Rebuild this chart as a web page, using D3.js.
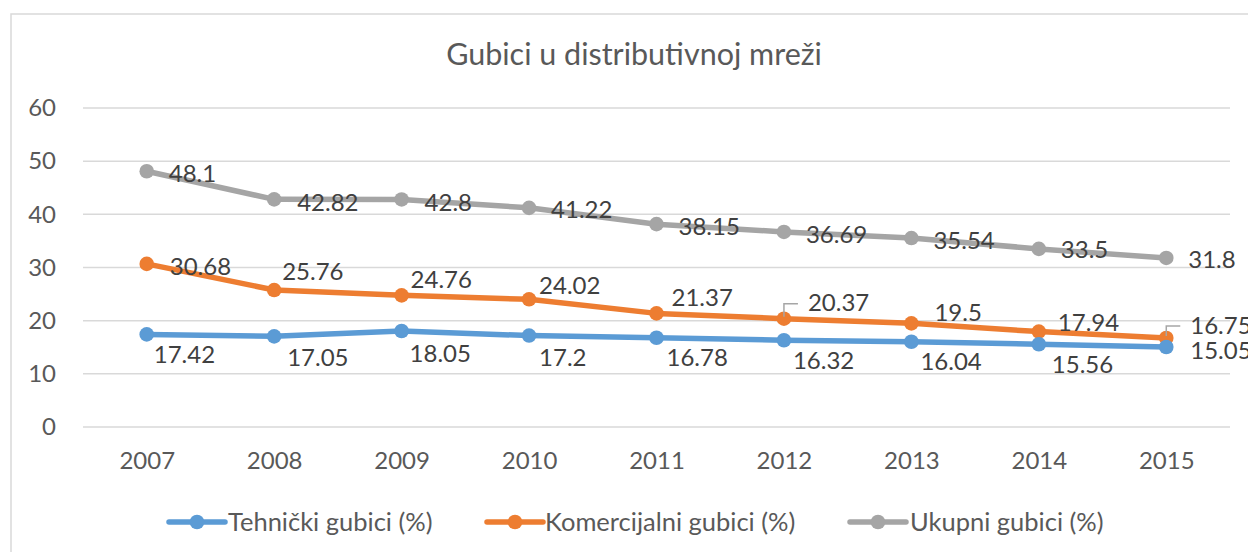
<!DOCTYPE html>
<html><head><meta charset="utf-8">
<script src="https://cdn.jsdelivr.net/npm/d3@7"></script>
<style>
html,body{margin:0;padding:0;background:#fff;}
svg{display:block;font-family:Lato, "Open Sans", sans-serif;}
</style></head>
<body>
<svg id="chart" width="1248" height="552"></svg>
<script>
const title = "Gubici u distributivnoj mreži";
const years = ["2007","2008","2009","2010","2011","2012","2013","2014","2015"];
const yTicks = [0,10,20,30,40,50,60];
const seriesNames = ["Tehnički gubici (%)","Komercijalni gubici (%)","Ukupni gubici (%)"];
const tehnicki = [17.42,17.05,18.05,17.2,16.78,16.32,16.04,15.56,15.05];
const komercijalni = [30.68,25.76,24.76,24.02,21.37,20.37,19.5,17.94,16.75];
const ukupni = [48.1,42.82,42.8,41.22,38.15,36.69,35.54,33.5,31.8];
const colors = ["#5B9BD5","#ED7D31","#A5A5A5"];
// label nudges (dx from point to text start, dy from point to text centre)
const labelNudges = [
  [[7,20],[13,21],[8,22],[10,22],[10,20],[9,20],[9,20],[13,20],[24,3]],
  [[23,2],[8,-19],[9,-16],[10,-14],[15,-16],[24,-16],[23,-11],[19,-9],[24,-13]],
  [[22,2],[23,3],[23,3],[22,2],[22,2],[22,2],[22,2],[22,0],[22,1]]
];
const leaderIdx = [5,8]; // komercijalni labels drawn with leader lines

const svg = d3.select("#chart");
const x = d3.scalePoint().domain(years).range([83,1230]).padding(0.5);
const y = d3.scaleLinear().domain([0,60]).range([427,108]);

svg.append("rect").attr("x",11).attr("y",14).attr("width",1400).attr("height",700)
  .attr("fill","#fff").attr("stroke","#D9D9D9").attr("stroke-width",1.5);

svg.append("text").attr("x",634).attr("y",65).attr("text-anchor","middle")
  .attr("font-size",30.5).attr("fill","#595959").text(title);

// gridlines
svg.append("g").selectAll("line").data(yTicks).join("line")
  .attr("x1",83).attr("x2",1230).attr("y1",d=>y(d)).attr("y2",d=>y(d))
  .attr("stroke","#D9D9D9").attr("stroke-width",1.5);

// y axis labels
const yAxis = svg.append("g").attr("transform","translate(56,0)")
  .call(d3.axisLeft(y).tickValues(yTicks).tickSize(0).tickPadding(0));
yAxis.select(".domain").remove();
yAxis.selectAll("text").attr("font-size",24).attr("fill","#595959").attr("font-family","Lato, sans-serif");

// x axis labels
const xAxis = svg.append("g").attr("transform","translate(0,452)")
  .call(d3.axisBottom(x).tickSize(0).tickPadding(0));
xAxis.select(".domain").remove();
xAxis.selectAll("text").attr("font-size",24).attr("fill","#595959").attr("font-family","Lato, sans-serif").attr("dy","0.71em");

const all = [tehnicki, komercijalni, ukupni];
const line = d3.line().x((d,i)=>x(years[i])).y(d=>y(d));
const drawOrder = [2,1,0];
drawOrder.forEach(s=>{
  const g = svg.append("g");
  g.append("path").datum(all[s]).attr("d",line).attr("fill","none")
    .attr("stroke",colors[s]).attr("stroke-width",5.5).attr("stroke-linejoin","round").attr("stroke-linecap","round");
  g.selectAll("circle").data(all[s]).join("circle")
    .attr("cx",(d,i)=>x(years[i])).attr("cy",d=>y(d)).attr("r",7.3).attr("fill",colors[s]);
});

// leader lines
svg.append("g").selectAll("path").data(leaderIdx).join("path")
  .attr("d",i=>{
    const px = x(years[i]), py = y(komercijalni[i]);
    const ty = py + labelNudges[1][i][1] + 1;
    return `M${px},${py-2}L${px},${ty}L${px+labelNudges[1][i][0]-10},${ty}`;
  })
  .attr("fill","none").attr("stroke","#A6A6A6").attr("stroke-width",1.5);

// data labels
[0,1,2].forEach(s=>{
  svg.append("g").selectAll("text").data(all[s]).join("text")
    .attr("x",(d,i)=>x(years[i])+labelNudges[s][i][0])
    .attr("y",(d,i)=>y(d)+labelNudges[s][i][1])
    .attr("dy","0.36em")
    .attr("font-size",24).attr("fill","#404040")
    .text(d=>d);
});

// legend
const legendX = [[169,225,228],[487,543,545],[850,906,910]];
const lg = svg.append("g");
seriesNames.forEach((n,i)=>{
  const [a,b,t] = legendX[i];
  lg.append("line").attr("x1",a).attr("x2",b).attr("y1",522).attr("y2",522)
    .attr("stroke",colors[i]).attr("stroke-width",5.5).attr("stroke-linecap","round");
  lg.append("circle").attr("cx",(a+b)/2).attr("cy",522).attr("r",7.3).attr("fill",colors[i]);
  lg.append("text").attr("x",t).attr("y",522).attr("dy","0.36em")
    .attr("font-size",25.5).attr("fill","#595959").text(n);
});
</script>
</body></html>
